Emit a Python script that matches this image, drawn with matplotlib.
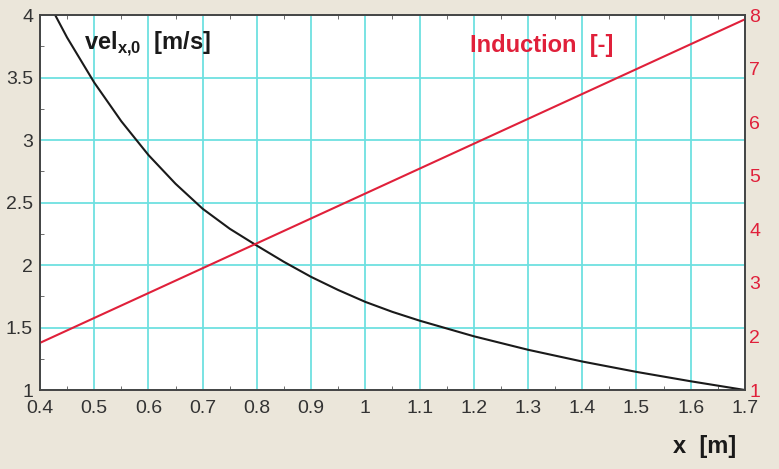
import numpy as np
import matplotlib.pyplot as plt
from matplotlib.ticker import MultipleLocator, FormatStrFormatter

# data
x = [0.428, 0.45, 0.5, 0.55, 0.6, 0.65, 0.7, 0.75, 0.8, 0.85, 0.9, 0.95, 1.0,
     1.05, 1.1, 1.2, 1.3, 1.4, 1.5, 1.6, 1.7]
vel = [4.00, 3.82, 3.46, 3.15, 2.88, 2.65, 2.45, 2.29, 2.155, 2.025, 1.905, 1.80,
       1.705, 1.625, 1.555, 1.43, 1.322, 1.228, 1.145, 1.07, 1.00]
x_ind = [0.4, 1.7]
induction = [1.88, 7.92]

plt.rcParams['font.family'] = ['Liberation Sans', 'DejaVu Sans']
plt.rcParams['mathtext.fontset'] = 'custom'
plt.rcParams['mathtext.rm'] = 'Liberation Sans'
plt.rcParams['mathtext.bf'] = 'Liberation Sans:bold'
bg = '#ebe6da'
grid_c = '#6ee0e0'
red = '#e0203a'

fig = plt.figure(figsize=(7.79, 4.69), dpi=100, facecolor=bg)
ax = fig.add_axes([0.0513, 0.1684, 0.905, 0.7996])
ax.set_facecolor('white')
ax2 = ax.twinx()

ax.plot(x, vel, color='#1a1a1a', lw=1.5, zorder=3, solid_joinstyle='round')
ax2.plot(x_ind, induction, color=red, lw=1.5)

ax.set_xlim(0.4, 1.7)
ax.set_ylim(1, 4)
ax2.set_ylim(1, 8)

ax.xaxis.set_major_locator(MultipleLocator(0.1))
ax.xaxis.set_minor_locator(MultipleLocator(0.05))
ax.yaxis.set_major_locator(MultipleLocator(0.5))
ax.yaxis.set_minor_locator(MultipleLocator(0.25))
ax2.yaxis.set_major_locator(MultipleLocator(1))
ax.xaxis.set_major_formatter(FormatStrFormatter('%g'))
ax.yaxis.set_major_formatter(FormatStrFormatter('%g'))

ax.grid(True, which='major', color=grid_c, lw=1.3)
ax.set_axisbelow(True)

ax.tick_params(which='both', direction='in', top=True, length=3, color='#555555',
               labelsize=14, labelcolor='#333333', pad=5)
ax.tick_params(which='major', length=0)
ax.tick_params(axis='x', which='major', length=0, pad=7)
ax2.tick_params(direction='in', length=0, labelsize=14, labelcolor=red, pad=3)

for a in (ax, ax2):
    for s in a.spines.values():
        s.set_color('#444444')
        s.set_linewidth(1.2)

ax.text(0.482, 3.77, r'vel$_{\mathbf{x{,}0}}$  [m/s]', fontsize=17, fontweight='bold',
        color='#1a1a1a', va='center', ha='left')
ax2.text(1.326, 7.44, 'Induction  [-]', fontsize=17, fontweight='bold',
         color=red, va='center', ha='center')
fig.text(0.904, 0.047, 'x  [m]', fontsize=17, fontweight='bold', color='#1a1a1a',
         ha='center', va='center')

fig.savefig('out.png', dpi=100, facecolor=bg)
